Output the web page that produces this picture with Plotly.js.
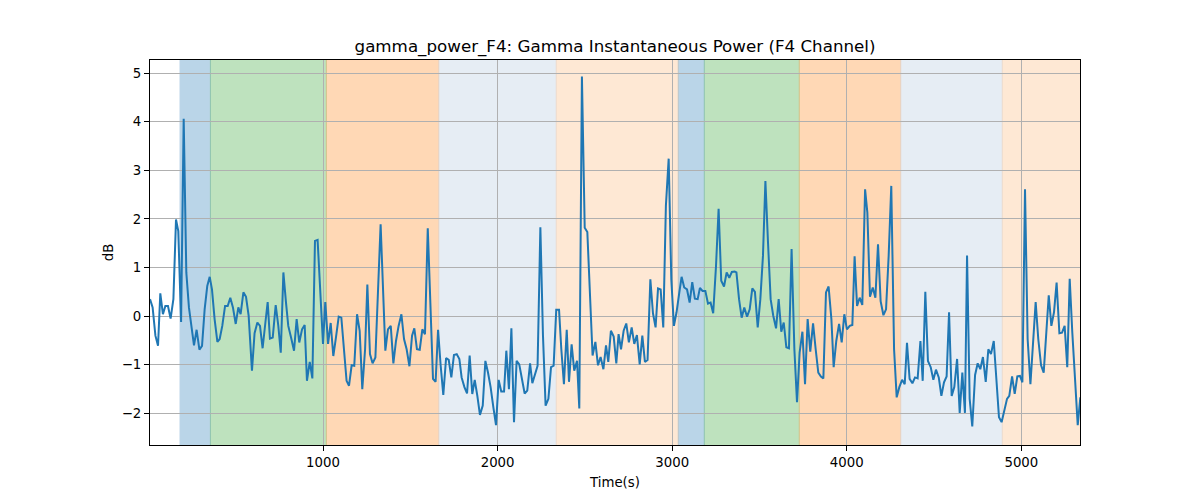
<!DOCTYPE html>
<html>
<head>
<meta charset="utf-8">
<script src="https://cdn.plot.ly/plotly-3.0.1.min.js"></script>
<style>
  body { margin: 0; background: #fff; }
  #chart { width: 1200px; height: 500px; }
</style>
</head>
<body>
<div id="chart"></div>
<script>
"use strict"
// time (s) and gamma power (dB)
let times = [
    9, 24, 40, 55, 68, 83, 97, 112, 127, 143, 158, 171, 187, 202, 217, 232, 246, 261, 276, 292,
    307, 322, 337, 351, 364, 379, 395, 408, 423, 439, 454, 469, 484, 500, 515, 528, 544, 559, 574, 593,
    608, 624, 639, 654, 670,
    683, 696, 712, 729, 744, 758, 773, 788, 801, 817, 834, 849, 864, 880, 895, 908, 924, 939, 954, 969,
    985, 1000, 1013, 1029, 1044, 1059, 1074, 1090, 1105, 1120, 1135, 1149, 1164, 1179, 1195, 1210, 1225, 1241, 1254, 1269,
    1284, 1300, 1315, 1330,
    1357, 1372, 1388, 1403, 1418, 1433, 1449, 1464, 1479, 1495, 1510, 1523, 1538, 1554, 1569, 1584, 1600, 1615, 1630, 1645,
    1659, 1674, 1689, 1705, 1720, 1735, 1750, 1766, 1781, 1794, 1810, 1825, 1840, 1855, 1869, 1884, 1899, 1915, 1930, 1945,
    1960, 1976, 1991, 2006, 2021,
    2037, 2050, 2065, 2079, 2094, 2109, 2124, 2140, 2155, 2170, 2186, 2199, 2214, 2229, 2245, 2260, 2275, 2291, 2306, 2321,
    2336, 2352, 2365, 2380, 2396, 2409, 2424, 2439, 2455, 2468, 2483, 2499, 2514, 2529, 2544, 2560, 2575, 2590, 2606, 2621,
    2634, 2649, 2665, 2680,
    2693, 2707, 2722, 2737, 2752, 2768, 2783, 2798, 2814, 2829, 2844, 2859, 2875, 2890, 2905, 2919, 2934, 2949, 2964, 2980,
    2995, 3010, 3025, 3041, 3054, 3069, 3085, 3100, 3115, 3130, 3146, 3159, 3174, 3190, 3205, 3220, 3235, 3251, 3266, 3281,
    3297, 3312, 3327, 3342, 3358,
    3368, 3383, 3398, 3413, 3429, 3444, 3459, 3474, 3490, 3505, 3520, 3534, 3549, 3564, 3579, 3595, 3610, 3625, 3639, 3654,
    3669, 3684, 3700, 3715, 3730, 3746, 3761, 3776, 3791, 3807, 3822, 3837, 3852, 3866, 3881, 3896, 3912, 3925, 3940, 3956,
    3971, 3986, 4001, 4017, 4032,
    4045, 4059, 4074, 4089, 4105, 4118, 4133, 4149, 4164, 4179, 4194, 4210, 4225, 4240, 4255, 4271, 4286, 4301, 4317, 4332,
    4345, 4360, 4376, 4391, 4406, 4422, 4435, 4450, 4465, 4481, 4496, 4511, 4527, 4542, 4557, 4572, 4586, 4601, 4616, 4632,
    4647, 4662, 4677,
    4689, 4704, 4719, 4735, 4750, 4765, 4780, 4796, 4811, 4826, 4842, 4857, 4872, 4887, 4903, 4918, 4931, 4947, 4962, 4977,
    4992, 5006, 5021, 5036, 5052, 5067, 5082, 5097, 5113, 5128, 5141, 5157, 5172, 5187, 5202, 5218, 5233, 5248, 5263, 5277,
    5292, 5307, 5323, 5338
];
let power = [
    0.35, 0.18, -0.4, -0.61, 0.47, 0.04, 0.21, 0.21, -0.05, 0.35, 1.99, 1.75, -0.12, 4.06, 0.9, 0.18, -0.2, -0.6, -0.28, -0.69,
    -0.61, 0.14, 0.62, 0.81, 0.55, -0.06, -0.53, -0.47, -0.2, 0.21, 0.21, 0.38, 0.18, -0.16, 0.18, 0.04, 0.49, 0.40, 0.01, -1.12,
    -0.35, -0.13, -0.2, -0.66, -0.13,
    0.29, -0.46, -0.44, 0.23, -0.2, -0.75, 0.9, 0.28, -0.2, -0.44, -0.71, -0.06, -0.54, -0.27, -0.18, -1.33, -0.94, -1.28, 1.55, 1.57,
    0.49, -0.57, 0.29, -0.57, -0.14, -0.82, -0.44, -0.01, -0.03, -0.61, -1.33, -1.43, -1.01, -1.02, 0.04, -0.3, -1.5, -0.68, 0.65, -0.78,
    -0.97, -0.85, 0.42, 1.89,
    -0.71, -0.27, -0.2, -0.97, -0.51, -0.2, 0.04, -0.47, -0.68, -1.03, -0.4, -0.25, -0.68, -0.69, -0.27, -0.37, 1.81, 0.25, -1.29, -1.35,
    -0.28, -1.02, -1.62, -0.86, -0.9, -1.26, -0.8, -0.78, -0.88, -1.26, -1.46, -1.59, -0.81, -1.6, -1.31, -1.64, -2.03, -1.84, -0.92, -1.16,
    -1.46, -1.88, -2.24, -1.31, -1.55,
    -1.55, -0.71, -1.5, -0.25, -2.18, -0.92, -0.99, -1.29, -1.59, -1.53, -0.97, -1.38, -1.19, -1.02, 1.83, -0.4, -1.84, -1.7, -1.05, -1.02,
    0.13, 0.13, -0.68, -1.4, -0.28, -1.35, -0.58, -1.12, -0.92, -1.9, 4.93, 1.82, 1.73, 0.49, -0.81, -0.53, -1.01, -0.84, -1.09, -0.6,
    -0.94, -0.3, -0.42, -0.97,
    -0.37, -0.68, -0.3, -0.15, -0.54, -0.23, -0.57, -0.39, -0.99, -0.4, -0.94, -0.9, 0.76, 0.06, -0.23, 0.57, 0.55, -0.23, 2.27, 3.24,
    0.76, -0.2, 0.08, 0.49, 0.81, 0.59, 0.55, 0.28, 0.7, 0.36, 0.35, 0.58, 0.52, 0.52, 0.26, 0.28, 0.06, 1.03, 2.21, 0.73,
    0.61, 0.9, 0.79, 0.91, 0.92,
    0.9, 0.35, -0.03, 0.18, -0.01, 0.14, 0.57, 0.5, -0.23, 0.35, 1.24, 2.78, 1.51, 0.35, 0.01, -0.25, 0.35, -0.32, -0.13, -0.64,
    -0.66, 1.38, -0.68, -1.77, -0.75, -0.32, -1.4, -0.06, -0.73, -0.15, -0.68, -1.16, -1.24, -1.28, 0.49, 0.61, -0.06, -1.05, -0.51, -0.16,
    -0.54, 0.04, -0.27, -0.2, -0.18,
    1.23, 0.21, 0.38, 0.23, 2.61, 2.13, 0.4, 0.59, 0.38, 1.48, 0.31, 0.02, 0.14, 1.24, 2.68, -0.68, -1.67, -1.46, -1.31, -1.4,
    -0.55, -1.29, -1.38, -1.26, -1.28, -0.51, -1.33, 0.5, -0.92, -1.05, -1.31, -1.1, -1.26, -1.64, -1.36, -1.24, 0.08, -1.64, -1.46, -0.88,
    -1.99, -1.16, -1.99,
    1.25, -1.7, -2.27, -1.21, -0.97, -1.09, -0.84, -1.35, -0.68, -0.78, -0.51, -1.29, -2.08, -2.18, -1.91, -1.7, -1.64, -1.24, -1.6, -1.24,
    -1.23, -1.36, 2.61, -0.47, -1.4, -0.61, 0.29, -0.47, -1.01, -1.16, -0.34, 0.43, -0.2, 0.08, 0.69, -0.35, -0.34, -0.2, -1.05, 0.77,
    -0.34, -1.26, -2.24, -1.67
];

// shaded stages: start, end, kind
let bandStart = [181, 355, 1019, 1663, 2336, 3035, 3184, 3728, 4309, 4891];
let bandEnd = [355, 1019, 1663, 2336, 3035, 3184, 3728, 4309, 4891, 5336];
let bandKind = ['blue', 'green', 'orange', 'lightblue', 'peach', 'blue', 'green', 'orange', 'lightblue', 'peach'];

let xTicks = [1000, 2000, 3000, 4000, 5000];
let yTicks = [-2, -1, 0, 1, 2, 3, 4, 5];

let kindColor = {
    blue: '#1f77b4',
    green: '#2ca02c',
    orange: '#ff7f0e',
    lightblue: '#b0c4de',
    peach: '#fdb574'
};

let shapes = [];
for (let i = 0; i < bandStart.length; i++) {
    shapes.push({
        type: 'rect',
        xref: 'x', yref: 'paper',
        x0: bandStart[i], x1: bandEnd[i], y0: 0, y1: 1,
        fillcolor: kindColor[bandKind[i]],
        opacity: 0.3,
        line: { color: kindColor[bandKind[i]], width: 1 },
        layer: 'below'
    });
}

var trace1 = {
    x: times,
    y: power,
    type: 'scatter',
    mode: 'lines',
    line: { color: '#1f77b4', width: 2 },
    hoverinfo: 'none'
};

var layout = {
    width: 1200,
    height: 500,
    margin: { l: 150, r: 120, t: 60, b: 55 },
    paper_bgcolor: '#fff',
    plot_bgcolor: '#fff',
    font: { family: 'DejaVu Sans', size: 13.3, color: '#000' },
    showlegend: false,
    title: {
        text: 'gamma_power_F4: Gamma Instantaneous Power (F4 Channel)',
        font: { size: 16.7, color: '#000' },
        x: 0.5125, xanchor: 'center',
        y: 0.908, yanchor: 'middle'
    },
    xaxis: {
        range: [9, 5336],
        tickvals: xTicks,
        ticks: 'outside', ticklen: 5, tickcolor: '#000',
        showgrid: true, gridcolor: '#b0b0b0', gridwidth: 1,
        zeroline: false,
        showline: true, linecolor: '#000', linewidth: 1, mirror: true,
        title: { text: 'Time(s)', font: { size: 13.3 }, standoff: 8 }
    },
    yaxis: {
        range: [-2.65, 5.27],
        tickvals: yTicks,
        ticks: 'outside', ticklen: 5, tickcolor: '#000',
        showgrid: true, gridcolor: '#b0b0b0', gridwidth: 1,
        zeroline: false,
        showline: true, linecolor: '#000', linewidth: 1, mirror: true,
        title: { text: 'dB', font: { size: 13.3 }, standoff: 5 }
    },
    shapes: shapes
};

Plotly.newPlot('chart', [trace1], layout, { displayModeBar: false, staticPlot: true });
</script>
</body>
</html>
